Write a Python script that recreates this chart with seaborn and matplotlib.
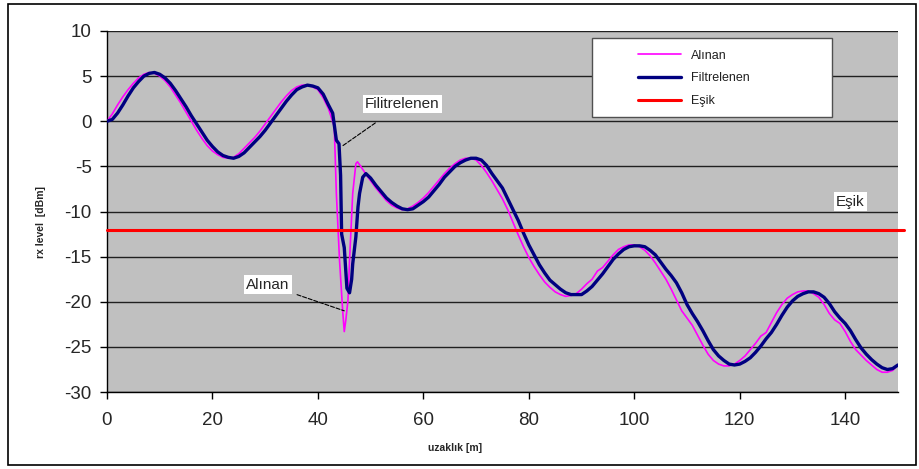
import numpy as np
import pandas as pd
import matplotlib
matplotlib.use("Agg")
import matplotlib.pyplot as plt
import seaborn as sns
from matplotlib.patches import Rectangle

# distance [m] and levels [dBm]
x_filt = [0, 1, 2, 3, 4, 5, 6, 7, 8, 9, 10, 11, 12, 13, 14, 15, 16, 17, 18, 19,
          20, 21, 22, 23, 24, 25, 26, 27, 28, 29, 30, 31, 32, 33, 34, 35, 36, 37, 38, 39,
          40, 41, 42, 42.8, 43.5, 44.0, 44.3, 44.5, 45.0, 45.5, 46.0, 46.4, 46.6, 47.2, 47.6, 47.9,
          48.5, 49.1, 50, 51, 52, 53, 54, 55, 56, 57, 58, 59, 60, 61, 62, 63, 64, 65, 66, 67,
          68, 69, 70, 71, 72, 73, 74, 75, 76, 77, 78, 79, 80, 81, 82, 83, 84, 85, 86, 87,
          88, 89, 90, 91, 92, 93, 94, 95, 96, 97, 98, 99, 100, 101, 102, 103, 104, 105, 106, 107,
          108, 109, 110, 111, 112, 113, 114, 115, 116, 117, 118, 119, 120, 121, 122, 123, 124, 125, 126, 127,
          128, 129, 130, 131, 132, 133, 134, 135, 136, 137, 138, 139, 140, 141, 142, 143, 144, 145, 146, 147,
          148, 149, 150]
filtrelenen = [0.0, 0.2, 0.9, 1.8, 2.8, 3.7, 4.4, 5.0, 5.3, 5.4, 5.2, 4.8, 4.2, 3.4, 2.5, 1.6, 0.6, -0.3, -1.2, -2.1,
               -2.8, -3.4, -3.8, -4.0, -4.1, -3.9, -3.5, -2.9, -2.3, -1.7, -1.0, -0.2, 0.6, 1.4, 2.2, 2.9, 3.5, 3.8, 4.0, 3.9,
               3.7, 3.0, 1.8, 0.9, -2.1, -2.5, -6.0, -12.5, -14.0, -18.5, -19.0, -17.5, -15.8, -12.8, -9.5, -8.0,
               -6.2, -5.8, -6.3, -7.1, -7.8, -8.5, -9.0, -9.4, -9.7, -9.8, -9.7, -9.3, -8.9, -8.4, -7.7, -7.0, -6.2, -5.6, -5.0, -4.6,
               -4.3, -4.1, -4.1, -4.3, -4.9, -5.8, -6.6, -7.4, -8.6, -9.8, -11.0, -12.4, -13.7, -14.8, -15.9, -16.8, -17.6, -18.1, -18.6, -19.0,
               -19.2, -19.2, -19.2, -18.8, -18.3, -17.6, -16.9, -16.1, -15.3, -14.7, -14.2, -13.9, -13.8, -13.8, -13.9, -14.3, -14.8, -15.6, -16.4, -17.1,
               -17.9, -19.0, -20.3, -21.3, -22.2, -23.2, -24.3, -25.3, -26.0, -26.5, -26.9, -27.0, -26.9, -26.6, -26.2, -25.6, -24.9, -24.1, -23.4, -22.5,
               -21.5, -20.6, -19.9, -19.4, -19.1, -18.9, -18.9, -19.1, -19.5, -20.2, -21.1, -21.8, -22.4, -23.2, -24.2, -25.1, -25.8, -26.4, -26.9, -27.3,
               -27.5, -27.4, -27.0]

x_alin = [0, 1, 2, 3, 4, 5, 6, 7, 8, 9, 10, 11, 12, 13, 14, 15, 16, 17, 18, 19,
          20, 21, 22, 23, 24, 25, 26, 27, 28, 29, 30, 31, 32, 33, 34, 35, 36, 37, 38, 39,
          40, 41, 42, 42.5, 43.1, 43.5, 44.1, 44.7, 45.0, 45.3, 45.7, 46.0, 46.6, 47.2, 47.5, 48.0,
          48.8, 49.5, 50, 51, 52, 53, 54, 55, 56, 57, 58, 59, 60, 61, 62, 63, 64, 65, 66, 67,
          68, 69, 70, 71, 72, 73, 74, 75, 76, 77, 78, 79, 80, 81, 82, 83, 84, 85, 86, 87,
          88, 89, 90, 91, 92, 93, 94, 95, 96, 97, 98, 99, 100, 101, 102, 103, 104, 105, 106, 107,
          108, 109, 110, 111, 112, 113, 114, 115, 116, 117, 118, 119, 120, 121, 122, 123, 124, 125, 126, 127,
          128, 129, 130, 131, 132, 133, 134, 135, 136, 137, 138, 139, 140, 141, 142, 143, 144, 145, 146, 147,
          148, 149, 150]
alinan = [0.0, 0.8, 1.8, 2.7, 3.5, 4.2, 4.8, 5.2, 5.4, 5.3, 5.0, 4.5, 3.8, 2.9, 2.0, 1.0, 0.0, -1.0, -1.9, -2.7,
          -3.3, -3.7, -4.0, -4.1, -4.0, -3.6, -3.0, -2.4, -1.8, -1.1, -0.3, 0.5, 1.3, 2.1, 2.8, 3.4, 3.8, 4.0, 4.0, 3.8,
          3.5, 2.6, 1.4, 0.5, -0.6, -8.0, -15.4, -21.0, -23.3, -22.0, -19.8, -15.4, -8.0, -4.7, -4.5, -4.9,
          -5.6, -6.2, -6.6, -7.4, -8.1, -8.8, -9.3, -9.6, -9.8, -9.7, -9.4, -9.0, -8.5, -7.9, -7.2, -6.5, -5.8, -5.2, -4.7, -4.3,
          -4.1, -4.1, -4.3, -4.9, -5.7, -6.6, -7.6, -8.6, -9.8, -11.2, -12.6, -13.9, -15.1, -16.1, -17.0, -17.8, -18.4, -18.9, -19.2, -19.4,
          -19.3, -19.1, -18.6, -18.0, -17.5, -16.6, -16.2, -15.5, -14.8, -14.2, -13.9, -13.7, -13.7, -13.9, -14.3, -14.9, -15.7, -16.6, -17.5, -18.6,
          -19.8, -21.0, -21.8, -22.6, -23.7, -24.8, -25.8, -26.5, -26.9, -27.1, -27.1, -26.9, -26.5, -26.0, -25.3, -24.6, -23.8, -23.4, -22.3, -21.2,
          -20.3, -19.6, -19.2, -18.9, -18.8, -18.8, -19.1, -19.5, -20.3, -21.3, -22.0, -22.4, -23.3, -24.4, -25.3, -25.9, -26.5, -27.0, -27.5, -27.8,
          -27.8, -27.6, -27.0]

esik = -12

sns.set_style("white")
plt.rcParams['font.family'] = ['Liberation Sans', 'DejaVu Sans']
plt.rcParams['axes.unicode_minus'] = False

fig = plt.figure(figsize=(9.2, 4.69), dpi=100)
ax = fig.add_axes([0.1163, 0.164, 0.8597, 0.770])
ax.set_facecolor('#C0C0C0')

df_a = pd.DataFrame({'x': x_alin, 'y': alinan})
df_f = pd.DataFrame({'x': x_filt, 'y': filtrelenen})
sns.lineplot(data=df_a, x='x', y='y', ax=ax, color='#FF00FF', lw=1.2, label='Alınan', sort=False, zorder=3)
sns.lineplot(data=df_f, x='x', y='y', ax=ax, color='#000080', lw=2.4, label='Filtrelenen', sort=False, zorder=4)
ax.axhline(esik, color='#FF0000', lw=2.2, label='Eşik', zorder=5, xmax=1.008, clip_on=False)

ax.set_xlim(0, 150)
ax.set_ylim(-30, 10)
ax.set_xticks(np.arange(0, 141, 20))
ax.set_yticks(np.arange(-30, 11, 5))
ax.yaxis.grid(True, color='#202020', lw=1)
ax.set_axisbelow(True)
for s in ['top', 'right']:
    ax.spines[s].set_visible(False)
for s in ['left', 'bottom']:
    ax.spines[s].set_color('black')
    ax.spines[s].set_linewidth(1)
ax.tick_params(axis='both', direction='out', length=5, width=1, color='black', labelsize=13.5, pad=6, bottom=True, left=True)
ax.tick_params(axis='x', pad=9)

ax.set_xlabel('uzaklık [m]', fontsize=7.5, fontweight='bold')
ax.set_ylabel('rx level  [dBm]', fontsize=7.5, fontweight='bold')
ax.xaxis.set_label_coords(0.44, -0.14)
ax.yaxis.set_label_coords(-0.077, 0.47)

# legend: white box drawn separately, entries placed inside it
ax.add_patch(Rectangle((0.613, 0.762), 0.304, 0.219, transform=ax.transAxes, fc='white',
                       ec='#505050', lw=1, zorder=6, clip_on=False))
leg = ax.legend(loc='upper left', bbox_to_anchor=(0.671, 0.948), frameon=False, fontsize=9,
                handlelength=3.5, borderpad=0, labelspacing=0.85, handletextpad=0.8,
                borderaxespad=0)
leg.set_zorder(7)
for t in leg.get_texts():
    t.set_color('#202020')

box = dict(boxstyle='square,pad=0.15', fc='white', ec='none')
ax.annotate('Filitrelenen', xy=(44.5, -2.8), xytext=(56, 1.9), fontsize=11, ha='center', va='center',
            bbox=box, arrowprops=dict(arrowstyle='-', ls='--', lw=0.8, color='black', shrinkA=12, shrinkB=0))
ax.annotate('Alınan', xy=(45.0, -21.0), xytext=(30.5, -18.1), fontsize=11, ha='center', va='center',
            bbox=box, arrowprops=dict(arrowstyle='-', ls='--', lw=0.8, color='black', shrinkA=4, shrinkB=0))
ax.text(141, -8.9, 'Eşik', fontsize=11, ha='center', va='center', bbox=box)

fig.patches.append(Rectangle((8 / 920, 4 / 469), 908 / 920, 461 / 469, transform=fig.transFigure,
                             fill=False, ec='black', lw=1.2))

fig.savefig('out.png', dpi=100)
